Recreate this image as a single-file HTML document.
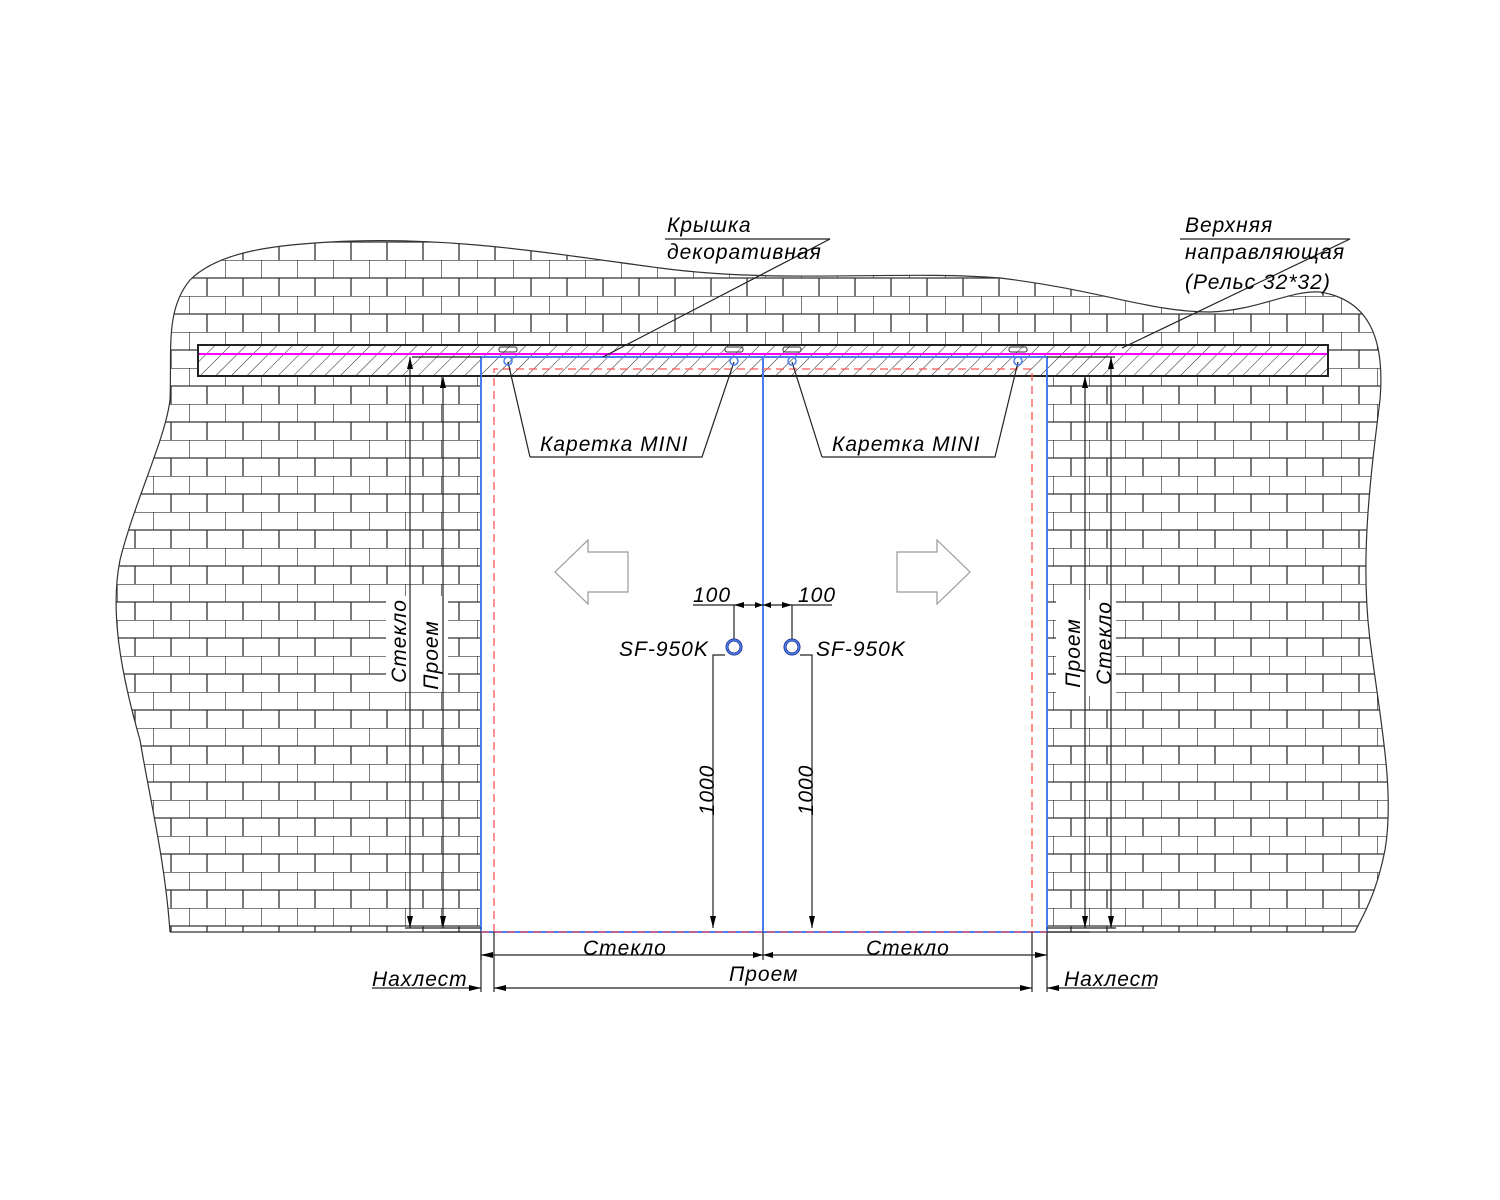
<!DOCTYPE html>
<html><head><meta charset="utf-8"><style>
html,body{margin:0;padding:0;background:#fff;}
svg{display:block;}
text{font-family:"Liberation Sans","DejaVu Sans",sans-serif;font-style:italic;font-size:21px;fill:#000;letter-spacing:1px;}
</style></head><body>
<svg width="1500" height="1200" viewBox="0 0 1500 1200" xmlns="http://www.w3.org/2000/svg">
<defs>
<pattern id="brick" x="9" y="8" width="36" height="36" patternUnits="userSpaceOnUse">
<rect width="36" height="36" fill="#fff"/>
<path d="M0 0H36M0 18H36M0 0V18M18 18V36" stroke="#333" stroke-width="1.3" fill="none"/>
</pattern>
<pattern id="hatch" width="11" height="11" patternUnits="userSpaceOnUse" patternTransform="rotate(45)">
<line x1="0" y1="0" x2="0" y2="11" stroke="#222" stroke-width="1"/>
</pattern>
<clipPath id="wall"><path d="M170 932 C165 860,150 800,140 740 C120 670,110 610,120 560 C135 500,165 440,170 400 C172 350,165 310,190 280 C220 250,280 245,330 242 C450 235,560 255,660 268 C780 284,900 270,1000 278 C1100 290,1150 312,1210 312 C1260 310,1290 290,1320 292 C1370 300,1385 340,1380 400 C1370 480,1360 560,1370 640 C1380 720,1395 790,1385 850 C1375 900,1360 920,1355 932 Z"/></clipPath>
</defs>
<g clip-path="url(#wall)">
<rect x="100" y="200" width="1320" height="740" fill="url(#brick)"/>
<rect x="481" y="376" width="566" height="560" fill="#fff"/>
</g>
<path d="M170 932 C165 860,150 800,140 740 C120 670,110 610,120 560 C135 500,165 440,170 400 C172 350,165 310,190 280 C220 250,280 245,330 242 C450 235,560 255,660 268 C780 284,900 270,1000 278 C1100 290,1150 312,1210 312 C1260 310,1290 290,1320 292 C1370 300,1385 340,1380 400 C1370 480,1360 560,1370 640 C1380 720,1395 790,1385 850 C1375 900,1360 920,1355 932" fill="none" stroke="#333" stroke-width="1.2"/>
<line x1="170" y1="932" x2="481" y2="932" stroke="#333" stroke-width="1.2"/>
<line x1="1047" y1="932" x2="1355" y2="932" stroke="#333" stroke-width="1.2"/>
<rect x="386" y="596" width="62" height="96" fill="#fff"/>
<rect x="1056" y="600" width="60" height="96" fill="#fff"/>
<rect x="198" y="345" width="1130" height="31" fill="#fff"/>
<rect x="198" y="345" width="1130" height="31" fill="url(#hatch)" stroke="#222" stroke-width="2"/>
<line x1="199" y1="354" x2="1327" y2="354" stroke="#f0f" stroke-width="2"/>
<g stroke="#4a7cf0" stroke-width="2" fill="none">
<path d="M481 932V357H1047V932H481"/>
<line x1="763" y1="357" x2="763" y2="932"/>
</g>
<g stroke="#f55" stroke-width="1.3" stroke-dasharray="8 5" fill="none">
<path d="M494 932V369H1032V932"/>
<line x1="481" y1="932" x2="1047" y2="932"/>
</g>
<g stroke="#222" stroke-width="1.2" fill="none">
<path d="M412 357H481M443 376H481M410 357V928M443 376V928M405 928H481M440 932H481"/>
<path d="M1047 376H1085M1047 357H1115M1085 376V928M1111 357V928M1047 928H1116M1047 932H1090"/>
<path d="M481 932V960M494 932V992M763 932V960M1047 932V960M1032 932V992"/>
<path d="M481 955H1047M494 988H1032M372 988H481M1047 988H1155"/>
<path d="M481 935V992M1047 935V992"/>
<path d="M693 605H832M734 605V640M792 605V640"/>
<path d="M713 928V655H725M812 928V655H800"/>
<path d="M530 457H702L734 362M530 457L508 362"/>
<path d="M822 457H995L1018 362M822 457L792 362"/>
<path d="M665 239H830L603 357"/>
<path d="M1180 239H1350L1122 348"/>
</g>
<g fill="#000">
<path d="M410 928l-3-12h6zM443 928l-3-12h6zM1085 928l-3-12h6zM1111 928l-3-12h6zM713 928l-3-12h6zM812 928l-3-12h6z"/>
<path d="M410 357l-3 12h6zM443 376l-3 12h6zM1085 376l-3 12h6zM1111 357l-3 12h6z"/>
<path d="M481 955l12-3v6zM1047 955l-12-3v6zM763 955l-10-3v6zM763 955l10-3v6z"/>
<path d="M494 988l12-3v6zM1032 988l-12-3v6zM481 988l-12-3v6zM1047 988l12-3v6z"/>
<path d="M734 605l10-3v6zM792 605l-10-3v6zM763 605l-8-3v6zM763 605l8-3v6z"/>
</g>
<g fill="none" stroke="#333" stroke-width="1">
<rect x="499" y="347" width="18" height="5" rx="2"/><circle cx="508" cy="361" r="4" stroke="#4a7cf0" stroke-width="1.5"/>
<rect x="725" y="347" width="18" height="5" rx="2"/><circle cx="734" cy="361" r="4" stroke="#4a7cf0" stroke-width="1.5"/>
<rect x="783" y="347" width="18" height="5" rx="2"/><circle cx="792" cy="361" r="4" stroke="#4a7cf0" stroke-width="1.5"/>
<rect x="1009" y="347" width="18" height="5" rx="2"/><circle cx="1018" cy="361" r="4" stroke="#4a7cf0" stroke-width="1.5"/>
</g>
<g fill="none">
<circle cx="734" cy="647" r="7" stroke="#1a2a80" stroke-width="3"/><circle cx="734" cy="647" r="7" stroke="#4a7cf0" stroke-width="1.5"/>
<circle cx="792" cy="647" r="7" stroke="#1a2a80" stroke-width="3"/><circle cx="792" cy="647" r="7" stroke="#4a7cf0" stroke-width="1.5"/>
</g>
<path d="M555 572L588 540V552H628V592H588V604Z" fill="#fff" stroke="#999" stroke-width="1.2"/>
<path d="M970 572L937 540V552H897V592H937V604Z" fill="#fff" stroke="#999" stroke-width="1.2"/>
<text x="667" y="232">Крышка</text>
<text x="667" y="259">декоративная</text>
<text x="1185" y="232">Верхняя</text>
<text x="1185" y="259">направляющая</text>
<text x="1185" y="289">(Рельс 32*32)</text>
<text x="540" y="451">Каретка MINI</text>
<text x="832" y="451">Каретка MINI</text>
<text x="693" y="602">100</text>
<text x="798" y="602">100</text>
<text x="619" y="656">SF-950K</text>
<text x="816" y="656">SF-950K</text>
<text x="583" y="955">Стекло</text>
<text x="866" y="955">Стекло</text>
<text x="729" y="981">Проем</text>
<text x="372" y="986">Нахлест</text>
<text x="1064" y="986">Нахлест</text>
<text transform="translate(406,641) rotate(-90)" text-anchor="middle">Стекло</text>
<text transform="translate(438,655) rotate(-90)" text-anchor="middle">Проем</text>
<text transform="translate(1080,653) rotate(-90)" text-anchor="middle">Проем</text>
<text transform="translate(1111,643) rotate(-90)" text-anchor="middle">Стекло</text>
<text transform="translate(714,790) rotate(-90)" text-anchor="middle">1000</text>
<text transform="translate(813,790) rotate(-90)" text-anchor="middle">1000</text>
</svg>
</body></html>
